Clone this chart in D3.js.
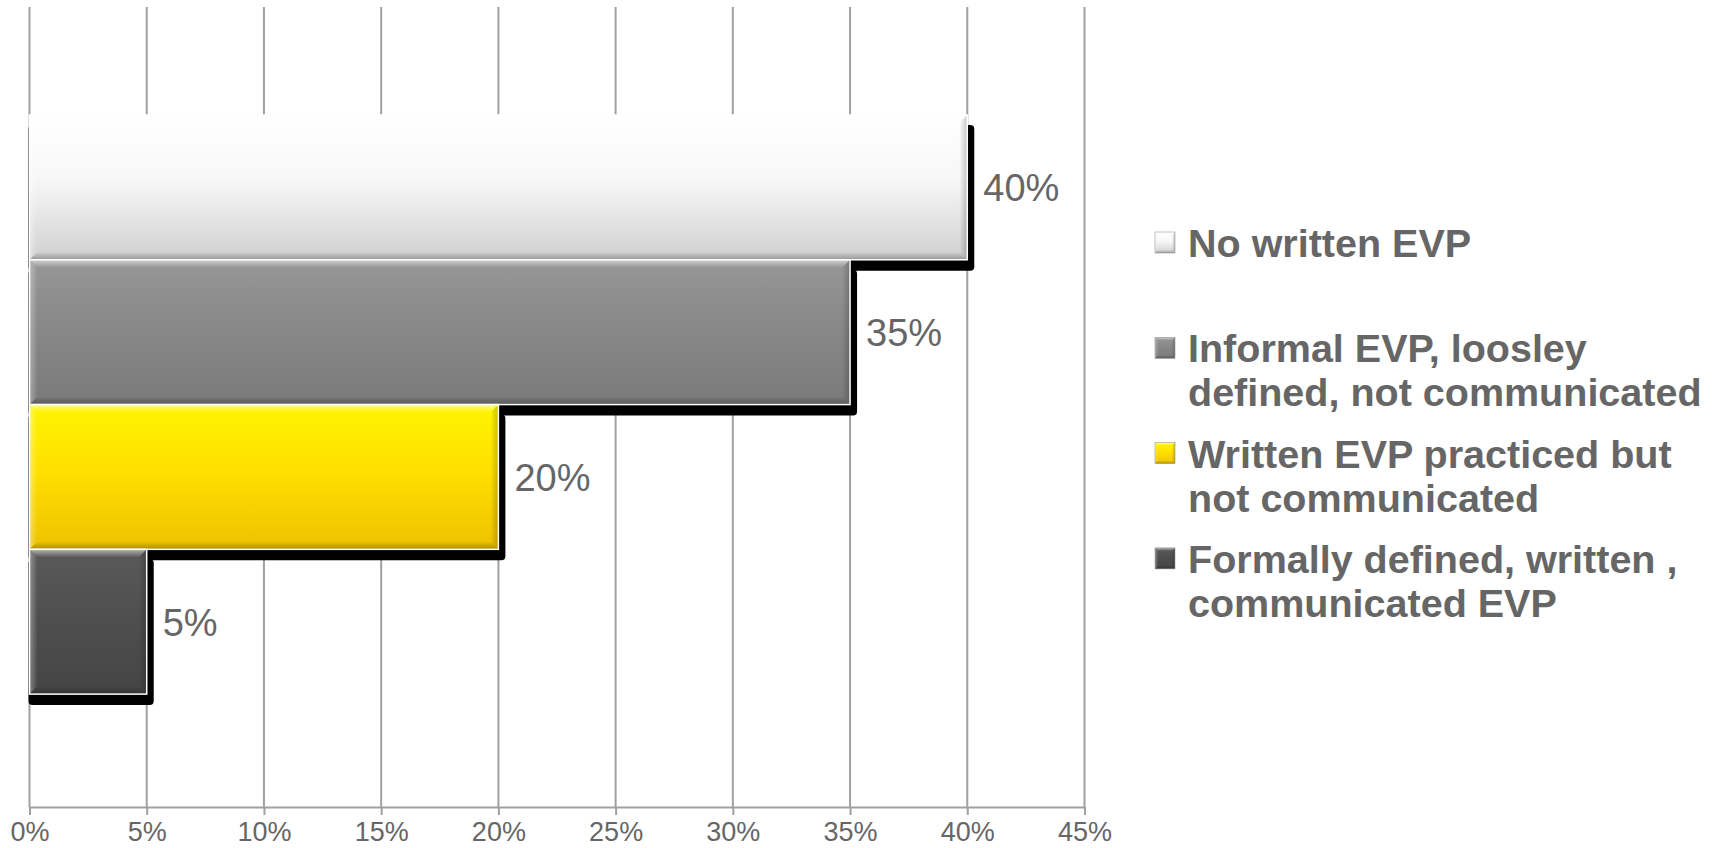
<!DOCTYPE html>
<html>
<head>
<meta charset="utf-8">
<script src="https://cdn.jsdelivr.net/npm/d3@7"></script>
<style>
  html, body { margin: 0; padding: 0; background: #fff; }
  svg { display: block; }
  text { font-family: "Liberation Sans", Arial, sans-serif; }
</style>
</head>
<body>
<svg id="chart" width="1715" height="848"></svg>
<script>
// EVP status shares
const categories = [
  "No written EVP",
  "Informal EVP, loosley defined, not communicated",
  "Written EVP practiced but not communicated",
  "Formally defined, written , communicated EVP"
];
const values = [0.40, 0.35, 0.20, 0.05];
const legendLines = [
  ["No written EVP"],
  ["Informal EVP, loosley", "defined, not communicated"],
  ["Written EVP practiced but", "not communicated"],
  ["Formally defined, written ,", "communicated EVP"]
];
const tickValues = [0, 0.05, 0.10, 0.15, 0.20, 0.25, 0.30, 0.35, 0.40, 0.45];

// fill ramps per bar (top, middle, bottom)
const palettes = [
  ["#ffffff", "#f7f7f7", "#d0d0d0"],
  ["#979797", "#888888", "#7a7a7a"],
  ["#fff500", "#ffe000", "#eec200"],
  ["#5a5a5a", "#4f4f4f", "#454545"]
];

const svg = d3.select("#chart");
const plotTop = 7, plotBottom = 807;

const x = d3.scaleLinear().domain([0, 0.45]).range([29.5, 1084.5]);
const y = d3.scaleBand().domain(categories).range([plotTop, plotBottom])
  .paddingInner(0).paddingOuter(0.763).align(0.489);

const defs = svg.append("defs");
palettes.forEach((p, i) => {
  const g = defs.append("linearGradient").attr("id", "fill" + i)
    .attr("x1", 0).attr("y1", 0).attr("x2", 0).attr("y2", 1);
  g.append("stop").attr("offset", "0%").attr("stop-color", p[0]);
  g.append("stop").attr("offset", "45%").attr("stop-color", p[1]);
  g.append("stop").attr("offset", "100%").attr("stop-color", p[2]);
});
// bevel shading gradients
function bevelGrad(id, x1, y1, x2, y2, color, op) {
  const g = defs.append("linearGradient").attr("id", id)
    .attr("x1", x1).attr("y1", y1).attr("x2", x2).attr("y2", y2);
  g.append("stop").attr("offset", "0%").attr("stop-color", color).attr("stop-opacity", op);
  g.append("stop").attr("offset", "100%").attr("stop-color", color).attr("stop-opacity", 0);
}
bevelGrad("bvTop", 0, 0, 0, 1, "#ffffff", 0.55);
bevelGrad("bvLeft", 0, 0, 1, 0, "#ffffff", 0.35);
bevelGrad("bvBottom", 0, 1, 0, 0, "#000000", 0.28);
bevelGrad("bvRight", 1, 0, 0, 0, "#000000", 0.22);

// gridlines
const grid = svg.append("g");
grid.selectAll("line").data(tickValues).join("line")
  .attr("x1", d => x(d)).attr("x2", d => x(d))
  .attr("y1", plotTop).attr("y2", plotBottom)
  .attr("stroke", "#a0a0a0").attr("stroke-width", 2);

// bottom axis
const axis = svg.append("g").attr("transform", `translate(0,${plotBottom})`)
  .call(d3.axisBottom(x).tickValues(tickValues).tickFormat(d3.format(".0%"))
    .tickSize(8).tickPadding(12).tickSizeOuter(0));
axis.select(".domain").attr("stroke", "#a0a0a0").attr("stroke-width", 2);
axis.selectAll(".tick line").attr("stroke", "#a0a0a0").attr("stroke-width", 2);
axis.selectAll(".tick text")
  .attr("font-size", 27).attr("fill", "#666666")
  .attr("font-family", "Liberation Sans, Arial, sans-serif")
  .attr("dy", null).attr("y", 34);

// bevelled bar with its drop shadow
function bevelBox(g, x0, y0, w, h, fillId, b) {
  g.append("rect").attr("x", x0).attr("y", y0).attr("width", w).attr("height", h)
    .attr("fill", `url(#${fillId})`);
  const x1 = x0 + w, y1 = y0 + h;
  const pts = {
    bvTop: [[x0, y0], [x1, y0], [x1 - b, y0 + b], [x0 + b, y0 + b]],
    bvLeft: [[x0, y0], [x0 + b, y0 + b], [x0 + b, y1 - b], [x0, y1]],
    bvBottom: [[x0, y1], [x0 + b, y1 - b], [x1 - b, y1 - b], [x1, y1]],
    bvRight: [[x1, y0], [x1, y1], [x1 - b, y1 - b], [x1 - b, y0 + b]]
  };
  Object.entries(pts).forEach(([id, p]) => {
    g.append("polygon").attr("points", p.map(q => q.join(",")).join(" "))
      .attr("fill", `url(#${id})`);
  });
}

const bars = svg.append("g");
categories.forEach((c, i) => {
  const g = bars.append("g");
  const x0 = x(0), x1 = x(values[i]);
  const y0 = y(c), h = y.bandwidth();
  g.append("rect")
    .attr("x", x0 - 1).attr("y", y0 + 10)
    .attr("width", x1 - x0 + 8).attr("height", h + 1)
    .attr("rx", 4).attr("fill", "#000");
  bevelBox(g, x0, y0, x1 - x0, h, "fill" + i, 8);
  g.append("rect").attr("x", x0).attr("y", y0).attr("width", x1 - x0).attr("height", h)
    .attr("fill", "none").attr("stroke", "#ffffff").attr("stroke-width", 1.5);
});

// value labels
svg.append("g").selectAll("text").data(categories).join("text")
  .attr("x", (c, i) => x(values[i]) + 16)
  .attr("y", c => y(c) + y.bandwidth() / 2 + 14)
  .attr("font-size", 38).attr("fill", "#666666")
  .text((c, i) => d3.format(".0%")(values[i]));

// legend
const legend = svg.append("g").attr("transform", "translate(1155,243)");
const rowGap = 105.3, lineH = 44;
legendLines.forEach((lines, i) => {
  const g = legend.append("g").attr("transform", `translate(0,${i * rowGap})`);
  bevelBox(g, 0, -11, 20, 21, "fill" + i, 3);
  g.append("rect").attr("x", 0).attr("y", -11).attr("width", 20).attr("height", 21)
    .attr("fill", "none").attr("stroke", "#9a9a9a").attr("stroke-width", 0.6);
  const t = g.append("text").attr("x", 33).attr("y", 14)
    .attr("font-size", 39.5).attr("font-weight", "bold").attr("fill", "#666666");
  lines.forEach((l, k) => {
    t.append("tspan").attr("x", 33).attr("dy", k === 0 ? 0 : lineH).text(l);
  });
});
</script>
</body>
</html>
